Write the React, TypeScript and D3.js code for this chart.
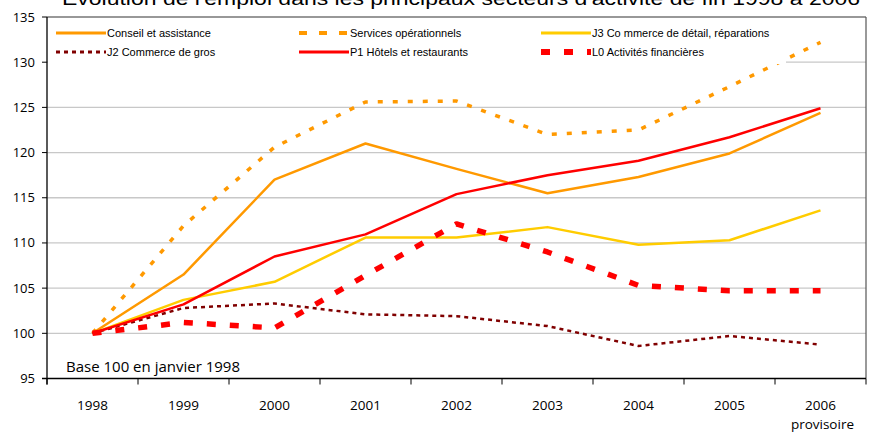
import React from 'react';
import * as d3 from 'd3';

const years = ['1998', '1999', '2000', '2001', '2002', '2003', '2004', '2005', '2006'];
const yTicks = [95, 100, 105, 110, 115, 120, 125, 130, 135];

const conseil = [100, 106.5, 117.0, 121.0, 118.2, 115.5, 117.3, 119.9, 124.4];
const services = [100, 111.9, 120.6, 125.6, 125.7, 122.0, 122.5, 127.3, 132.2];
const j3 = [100, 103.7, 105.7, 110.6, 110.6, 111.75, 109.8, 110.3, 113.6];
const j2 = [100, 102.8, 103.3, 102.1, 101.9, 100.8, 98.6, 99.7, 98.75];
const p1 = [100, 103.2, 108.5, 110.95, 115.4, 117.5, 119.1, 121.7, 124.9];
const l0 = [100, 101.2, 100.6, 106.4, 112.1, 109.0, 105.3, 104.7, 104.7];

const seriesNames = [
  'Conseil et assistance',
  'Services opérationnels',
  'J3 Co mmerce de détail, réparations',
  'J2 Commerce de gros',
  'P1 Hôtels et restaurants',
  'L0 Activités financières',
];

const title = "Évolution de l'emploi dans les principaux secteurs d'activité de fin 1998 à 2006";

export default function App() {
  const W = 873, H = 434;
  const left = 47, right = 866, top = 17, bottom = 378.5;
  const x = d3.scaleBand<string>().domain(years).range([left, right]).padding(0);
  const y = d3.scaleLinear().domain([95, 135]).range([bottom, top]);
  const cx = (i: number) => (x(years[i]) as number) + x.bandwidth() / 2;
  const line = d3.line<number>().x((_, i) => cx(i)).y((d) => y(d));

  const styles = [
    { values: conseil, color: '#FF9900', width: 2.5, dash: undefined as string | undefined, ldash: undefined as string | undefined },
    { values: services, color: '#FF9900', width: 3.5, dash: '5,10', ldash: '8,12' },
    { values: j3, color: '#FFCC00', width: 2.5, dash: undefined, ldash: undefined },
    { values: j2, color: '#800000', width: 2.5, dash: '4,4', ldash: '4,4' },
    { values: p1, color: '#FF0000', width: 2.5, dash: undefined, ldash: undefined },
    { values: l0, color: '#FF0000', width: 5.5, dash: '9,14', ldash: '9,14' },
  ];

  const legCols = [56, 299, 541];
  const legRows = [33, 52];
  const boundaries = years.map((yr) => x(yr) as number).concat([right]);

  return (
    <svg width={W} height={H} style={{ position: 'absolute', left: 0, top: 0, background: '#fff' }}>
      <rect x={0} y={0} width={W} height={H} fill="#fff" />
      <text x={62} y={4.5} fontFamily="Liberation Sans, Arial, sans-serif" fontSize={19} fill="#000"
        textLength={798} lengthAdjust="spacingAndGlyphs">{title}</text>

      {/* gridlines */}
      {yTicks.filter((t) => t !== 95 && t !== 135).map((t) => (
        <line key={t} x1={left} x2={right} y1={y(t)} y2={y(t)} stroke="#C8C8C8" strokeWidth={1.3} />
      ))}

      {/* series */}
      {styles.map((s, i) => (
        <path key={i} d={line(s.values) as string} fill="none" stroke={s.color} strokeWidth={s.width}
          strokeDasharray={s.dash} strokeLinejoin="round" />
      ))}

      {/* legend box */}
      <rect x={left + 1} y={top + 1} width={738} height={46} fill="#fff" />
      {styles.map((s, i) => {
        const cIdx = i % 3, rIdx = Math.floor(i / 3);
        const lx = legCols[cIdx], ly = legRows[rIdx];
        return (
          <g key={i}>
            <line x1={lx} x2={lx + 50} y1={ly} y2={ly} stroke={s.color}
              strokeWidth={i === 5 ? 6 : i === 1 ? 4 : 3} strokeDasharray={s.ldash} />
            <text x={lx + 51} y={ly + 4} fontFamily="Liberation Sans, Arial, sans-serif" fontSize={11} fill="#000">
              {seriesNames[i]}
            </text>
          </g>
        );
      })}

      {/* frame */}
      <line x1={left} x2={right} y1={top} y2={top} stroke="#333" strokeWidth={1.2} />
      <line x1={right} x2={right} y1={top} y2={bottom} stroke="#555" strokeWidth={1.2} />
      <line x1={left} x2={left} y1={top} y2={bottom + 6} stroke="#000" strokeWidth={1.3} />
      <line x1={left - 5} x2={right} y1={bottom} y2={bottom} stroke="#000" strokeWidth={1.3} />

      {/* y axis */}
      {yTicks.map((t) => (
        <g key={t}>
          <line x1={left - 5} x2={left} y1={y(t)} y2={y(t)} stroke="#000" strokeWidth={1} />
          <text x={35} y={y(t) + 4.5} textAnchor="end" fontFamily="Open Sans, sans-serif" fontSize={13} fill="#000">{t}</text>
        </g>
      ))}

      {/* x axis */}
      {boundaries.map((b, i) => (
        <line key={i} x1={b} x2={b} y1={bottom} y2={bottom + 6} stroke="#000" strokeWidth={1} />
      ))}
      {years.map((yr, i) => (
        <text key={yr} x={cx(i)} y={410} textAnchor="middle" fontFamily="Open Sans, sans-serif" fontSize={13.5} fill="#000">{yr}</text>
      ))}
      <text x={854} y={429} textAnchor="end" fontFamily="Open Sans, sans-serif" fontSize={13.5} fill="#000">provisoire</text>

      <text x={66} y={372} fontFamily="Open Sans, sans-serif" fontSize={15} fill="#000">Base 100 en janvier 1998</text>
    </svg>
  );
}
